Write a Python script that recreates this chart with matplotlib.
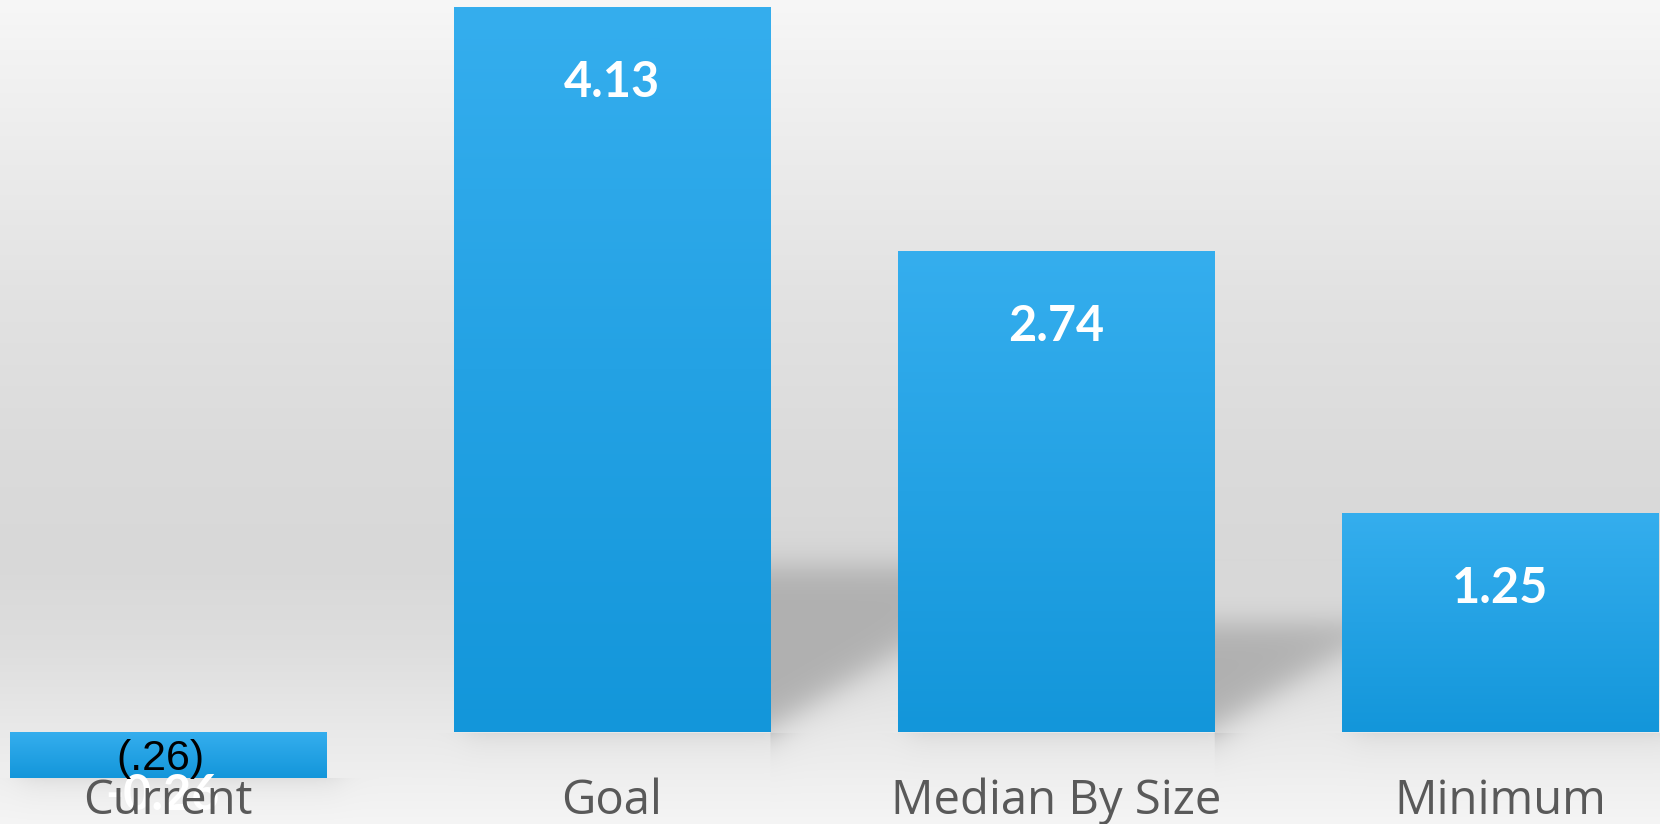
import numpy as np
import matplotlib
matplotlib.use('Agg')
import matplotlib.pyplot as plt
from matplotlib.colors import LinearSegmentedColormap

# ---- data ----
categories = ['Current', 'Goal', 'Median By Size', 'Minimum']
values = [-0.26, 4.13, 2.74, 1.25]
value_labels = ['-0.26', '4.13', '2.74', '1.25']
overlay_label = '(.26)'

W, H, DPI = 1660, 824, 100
fig = plt.figure(figsize=(W / DPI, H / DPI), dpi=DPI)
ax = fig.add_axes([0, 0, 1, 1])
XLIM = (-0.378, 3.36)
YLIM = (-0.524, 4.171)
ax.set_xlim(*XLIM)
ax.set_ylim(*YLIM)
ax.axis('off')

BAR_W = 0.712
x_pos = np.arange(len(categories))


def px(xd, yd):
    """data -> pixel (from top-left)"""
    X, Y = ax.transData.transform((xd, yd))
    return X, H - Y


# ---- background (decorative gradient + soft shadows) ----
rows = np.arange(H, dtype=float)
stops_y = [0, 50, 150, 300, 450, 560, 650, 730, 824]
stops_v = [247, 243, 236, 226, 219, 216, 222, 233, 245]
g = np.interp(rows, stops_y, stops_v)[:, None] * np.ones((1, W))
YY = rows[:, None] * np.ones((1, W))
XX = np.arange(W, dtype=float)[None, :] * np.ones((H, 1))


def sig(z):
    return 1.0 / (1.0 + np.exp(-z))


# cast shadows between Goal->Median and Median->Minimum
shadow_tops = {1: 566, 2: 622}
for i, top in shadow_tops.items():
    xl, _ = px(x_pos[i] + BAR_W / 2, 0)
    xr, _ = px(x_pos[i + 1] - BAR_W / 2, 0)
    edge = 727 - 0.6 * (XX - xl)
    m = sig((YY - top) / 9.0) * sig((edge - YY) / 11.0)
    m *= (XX >= xl - 1) & (XX <= xr + 1)
    g = g * (1 - m) + 176 * m

# soft shadow under each bar
for i, v in enumerate(values):
    xl, _ = px(x_pos[i] - BAR_W / 2, 0)
    xr, _ = px(x_pos[i] + BAR_W / 2, 0)
    _, yb = px(0, min(v, 0))
    d = np.where(YY > yb, np.exp(-(YY - yb) / 12.0), 0) * sig((XX - xl - 10) / 8) * sig((xr + 14 - XX) / 8)
    g = g - 16 * d

bg = np.clip(np.dstack([g, g, g]) / 255.0, 0, 1)
ax.imshow(bg, extent=(XLIM[0], XLIM[1], YLIM[0], YLIM[1]), aspect='auto',
          origin='upper', zorder=0, interpolation='bilinear')

# ---- bars with vertical gradient ----
bars = ax.bar(x_pos, values, width=BAR_W, color='#24a2e4', zorder=2, linewidth=0)
cmap = LinearSegmentedColormap.from_list('bar', ['#35aeee', '#1396da'])
grad = np.linspace(0, 1, 256)[:, None]
for b in bars:
    x0 = b.get_x()
    x1 = x0 + b.get_width()
    y0 = min(b.get_y(), b.get_y() + b.get_height())
    y1 = max(b.get_y(), b.get_y() + b.get_height())
    im = ax.imshow(grad, cmap=cmap, extent=(x0, x1, y0, y1), aspect='auto',
                   origin='upper', zorder=3, interpolation='bilinear')
    im.set_clip_path(b)

ax.set_xlim(*XLIM)
ax.set_ylim(*YLIM)

PT = 72.0 / DPI  # points per pixel

# ---- value labels ----
for i, (v, lab) in enumerate(zip(values, value_labels)):
    if v >= 0:
        ax.annotate(lab, (x_pos[i], v), xytext=(0, -90 * PT), textcoords='offset points',
                    ha='center', va='baseline', color='white', fontsize=35,
                    fontweight='bold', family='Lato', zorder=5)
    else:
        ax.annotate(lab, (x_pos[i], 0), xytext=(-5 * PT, -78 * PT), textcoords='offset points',
                    ha='center', va='baseline', color='white', fontsize=35,
                    fontweight='bold', family='Lato', zorder=4)
        ax.annotate(overlay_label, (x_pos[i], 0), xytext=(-7 * PT, -38 * PT),
                    textcoords='offset points', ha='center', va='baseline',
                    color='black', fontsize=31, family='Liberation Sans', zorder=7)

# ---- category labels ----
for i, c in enumerate(categories):
    ax.text(x_pos[i], (H - 814) / H, c, transform=ax.get_xaxis_transform(),
            ha='center', va='baseline', color='#595959', fontsize=34,
            family='Open Sans', zorder=6)

fig.savefig('out.png', dpi=DPI)
